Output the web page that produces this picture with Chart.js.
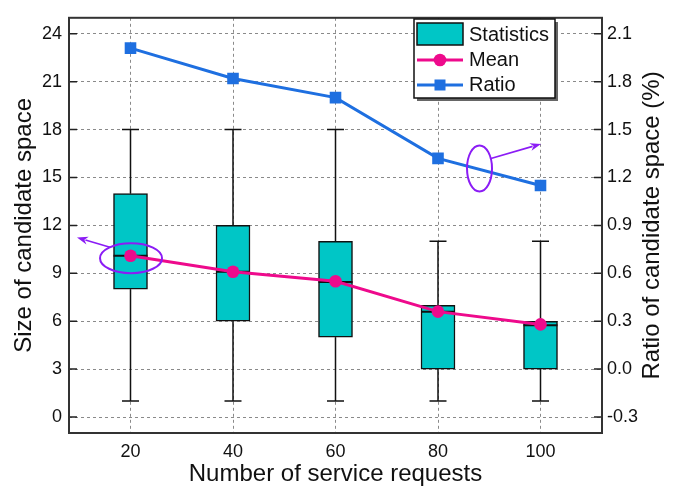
<!DOCTYPE html>
<html>
<head>
<meta charset="utf-8">
<script src="https://cdn.jsdelivr.net/npm/chart.js@4"></script>
<style>
  html, body { margin: 0; padding: 0; background: #fff; }
  #wrap { width: 683px; height: 492px; position: relative; }
</style>
</head>
<body>
<div id="wrap"><canvas id="chart"></canvas></div>
<script>
// ---- Data ----
const requests    = [20, 40, 60, 80, 100];
const whiskerLow  = [1, 1, 1, 1, 1];
const boxLow      = [8, 6, 5, 3, 3];
const medians     = [10.1, 9.1, 8.45, 6.6, 5.75];
const boxHigh     = [14, 12, 11, 7, 6];
const whiskerHigh = [18, 18, 18, 11, 11];
const means       = [10.1, 9.1, 8.5, 6.6, 5.8];
const ratios      = [2.01, 1.82, 1.70, 1.32, 1.15];

const sizeTicks  = [0, 3, 6, 9, 12, 15, 18, 21, 24];
const ratioTicks = [-0.3, 0.0, 0.3, 0.6, 0.9, 1.2, 1.5, 1.8, 2.1];

const FONT   = "'Liberation Sans', Arial, sans-serif";
const TEAL   = '#00C6C6';
const PINK   = '#EE0A8C';
const BLUE   = '#1E6FE0';
const PURPLE = '#8B1CF5';

// ---- Helpers ----
function drawArrow(ctx, x1, y1, x2, y2) {
  const ang = Math.atan2(y2 - y1, x2 - x1);
  const len = 11, half = 4;
  ctx.beginPath();
  ctx.moveTo(x1, y1);
  ctx.lineTo(x2 - Math.cos(ang) * len * 0.8, y2 - Math.sin(ang) * len * 0.8);
  ctx.stroke();
  ctx.beginPath();
  ctx.moveTo(x2, y2);
  ctx.lineTo(x2 - Math.cos(ang) * len - Math.sin(ang) * half, y2 - Math.sin(ang) * len + Math.cos(ang) * half);
  ctx.lineTo(x2 - Math.cos(ang) * len * 0.7, y2 - Math.sin(ang) * len * 0.7);
  ctx.lineTo(x2 - Math.cos(ang) * len + Math.sin(ang) * half, y2 - Math.sin(ang) * len - Math.cos(ang) * half);
  ctx.closePath();
  ctx.fill();
}

// whiskers + medians, drawn right after the boxes
const boxParts = {
  id: 'boxParts',
  afterDatasetDraw(chart, args) {
    if (args.index !== 0) return;
    const { ctx, scales: { x, y } } = chart;
    const boxW = 34, capW = 17;
    ctx.save();
    ctx.strokeStyle = '#111';
    ctx.lineWidth = 1.5;
    requests.forEach((r, i) => {
      const px = x.getPixelForValue(r);
      const lo = y.getPixelForValue(whiskerLow[i]);
      const q1 = y.getPixelForValue(boxLow[i]);
      const q3 = y.getPixelForValue(boxHigh[i]);
      const hi = y.getPixelForValue(whiskerHigh[i]);
      const md = y.getPixelForValue(medians[i]);
      ctx.beginPath();
      ctx.moveTo(px, q3); ctx.lineTo(px, hi);
      ctx.moveTo(px - capW / 2, hi); ctx.lineTo(px + capW / 2, hi);
      ctx.moveTo(px, q1); ctx.lineTo(px, lo);
      ctx.moveTo(px - capW / 2, lo); ctx.lineTo(px + capW / 2, lo);
      ctx.stroke();
      ctx.lineWidth = 2;
      ctx.beginPath();
      ctx.moveTo(px - boxW / 2, md); ctx.lineTo(px + boxW / 2, md);
      ctx.stroke();
      ctx.lineWidth = 1.5;
    });
    ctx.restore();
  }
};

// purple call-outs
const callouts = {
  id: 'callouts',
  afterDatasetsDraw(chart) {
    const { ctx, scales: { x, y } } = chart;
    ctx.save();
    ctx.strokeStyle = PURPLE;
    ctx.fillStyle = PURPLE;
    ctx.lineWidth = 2;
    ctx.beginPath();
    ctx.ellipse(x.getPixelForValue(20.1), y.getPixelForValue(9.95), 31, 15, 0, 0, Math.PI * 2);
    ctx.stroke();
    ctx.beginPath();
    ctx.ellipse(x.getPixelForValue(88.1), y.getPixelForValue(15.57), 12.5, 23, 0, 0, Math.PI * 2);
    ctx.stroke();
    ctx.lineWidth = 1.6;
    drawArrow(ctx, x.getPixelForValue(16.0), y.getPixelForValue(10.63), x.getPixelForValue(9.56), y.getPixelForValue(11.24));
    drawArrow(ctx, x.getPixelForValue(90.15), y.getPixelForValue(16.18), x.getPixelForValue(100.1), y.getPixelForValue(17.1));
    ctx.restore();
  }
};

// frame, inward ticks, right title, legend
const frame = {
  id: 'frame',
  afterDraw(chart) {
    const { ctx, chartArea: { left, right, top, bottom }, scales: { y, y1 } } = chart;
    ctx.save();
    ctx.strokeStyle = '#222';
    ctx.lineWidth = 1.5;
    ctx.beginPath();
    sizeTicks.forEach(v => {
      const py = y.getPixelForValue(v);
      ctx.moveTo(left, py); ctx.lineTo(left + 8, py);
    });
    ratioTicks.forEach(v => {
      const py = y1.getPixelForValue(v);
      ctx.moveTo(right, py); ctx.lineTo(right - 8, py);
    });
    ctx.stroke();
    ctx.strokeStyle = '#333';
    ctx.lineWidth = 2;
    ctx.strokeRect(left, top, right - left, bottom - top);

    // right title, reading upwards
    ctx.fillStyle = '#111';
    ctx.font = '24px ' + FONT;
    ctx.textAlign = 'center';
    ctx.textBaseline = 'middle';
    ctx.translate(652, (top + bottom) / 2);
    ctx.rotate(-Math.PI / 2);
    ctx.fillText('Ratio of candidate space (%)', 0, 0);
    ctx.setTransform(1, 0, 0, 1, 0, 0);

    // legend
    const lx = 414, ly = 19, lw = 141, lh = 79;
    ctx.fillStyle = '#666';
    ctx.fillRect(lx + 3, ly + 3, lw, lh);
    ctx.fillStyle = '#fff';
    ctx.fillRect(lx, ly, lw, lh);
    ctx.strokeStyle = '#111';
    ctx.lineWidth = 1.5;
    ctx.strokeRect(lx, ly, lw, lh);

    ctx.fillStyle = TEAL;
    ctx.fillRect(417, 23, 46, 22);
    ctx.strokeRect(417, 23, 46, 22);

    ctx.strokeStyle = PINK;
    ctx.lineWidth = 3;
    ctx.beginPath(); ctx.moveTo(417, 60); ctx.lineTo(463, 60); ctx.stroke();
    ctx.fillStyle = PINK;
    ctx.beginPath(); ctx.arc(440, 60, 6.3, 0, Math.PI * 2); ctx.fill();

    ctx.strokeStyle = BLUE;
    ctx.beginPath(); ctx.moveTo(417, 85); ctx.lineTo(463, 85); ctx.stroke();
    ctx.fillStyle = BLUE;
    ctx.fillRect(434.5, 79.5, 11, 11);

    ctx.fillStyle = '#111';
    ctx.font = '20px ' + FONT;
    ctx.textAlign = 'left';
    ctx.fillText('Statistics', 469, 35);
    ctx.fillText('Mean', 469, 60);
    ctx.fillText('Ratio', 469, 85);
    ctx.restore();
  }
};

const gridStyle = { color: '#8a8a8a', lineWidth: 1, drawTicks: false, offset: false };
const dashed = { display: false, dash: [3, 3] };

new Chart(document.getElementById('chart'), {
  type: 'bar',
  data: {
    datasets: [
      {
        label: 'Statistics',
        data: requests.map((r, i) => ({ x: r, y: [boxLow[i], boxHigh[i]] })),
        backgroundColor: TEAL,
        borderColor: '#111',
        borderWidth: 1.5,
        borderSkipped: false,
        barThickness: 34,
        yAxisID: 'y',
        order: 2
      },
      {
        label: 'Mean',
        type: 'line',
        data: requests.map((r, i) => ({ x: r, y: means[i] })),
        borderColor: PINK,
        backgroundColor: PINK,
        borderWidth: 3,
        pointRadius: 6.3,
        pointBorderWidth: 0,
        yAxisID: 'y',
        order: 1
      },
      {
        label: 'Ratio',
        type: 'line',
        data: requests.map((r, i) => ({ x: r, y: ratios[i] })),
        borderColor: BLUE,
        backgroundColor: BLUE,
        borderWidth: 3,
        pointStyle: 'rect',
        pointRadius: 8.2,
        pointBorderWidth: 0,
        yAxisID: 'y1',
        order: 0
      }
    ]
  },
  options: {
    responsive: true,
    maintainAspectRatio: false,
    animation: false,
    layout: { padding: { top: 7, left: 0, right: 0, bottom: 0 } },
    plugins: { legend: { display: false }, tooltip: { enabled: false } },
    scales: {
      x: {
        type: 'linear',
        min: 8, max: 112,
        offset: false,
        afterBuildTicks: axis => { axis.ticks = requests.map(v => ({ value: v })); },
        afterFit: axis => { axis.height = 59; },
        grid: gridStyle,
        border: dashed,
        ticks: {
          color: '#111',
          font: { family: FONT, size: 18 },
          padding: 8,
          maxRotation: 0
        },
        title: {
          display: true,
          text: 'Number of service requests',
          color: '#111',
          font: { family: FONT, size: 24 },
          padding: { top: 0, bottom: 3 }
        }
      },
      y: {
        position: 'left',
        min: -1, max: 25,
        afterBuildTicks: axis => { axis.ticks = sizeTicks.map(v => ({ value: v })); },
        afterFit: axis => { axis.width = 69; },
        grid: gridStyle,
        border: dashed,
        ticks: {
          color: '#111',
          font: { family: FONT, size: 18 },
          padding: 7
        },
        title: {
          display: true,
          text: 'Size of candidate space',
          color: '#111',
          font: { family: FONT, size: 24 },
          padding: { top: 10, bottom: 0 }
        }
      },
      y1: {
        position: 'right',
        min: -0.4, max: 2.2,
        afterBuildTicks: axis => { axis.ticks = ratioTicks.map(v => ({ value: v })); },
        afterFit: axis => { axis.width = 81; },
        grid: { display: false, drawTicks: false },
        border: { display: false },
        ticks: {
          color: '#111',
          font: { family: FONT, size: 18 },
          padding: 5,
          callback: v => v.toFixed(1)
        }
      }
    }
  },
  plugins: [boxParts, callouts, frame]
});
</script>
</body>
</html>
